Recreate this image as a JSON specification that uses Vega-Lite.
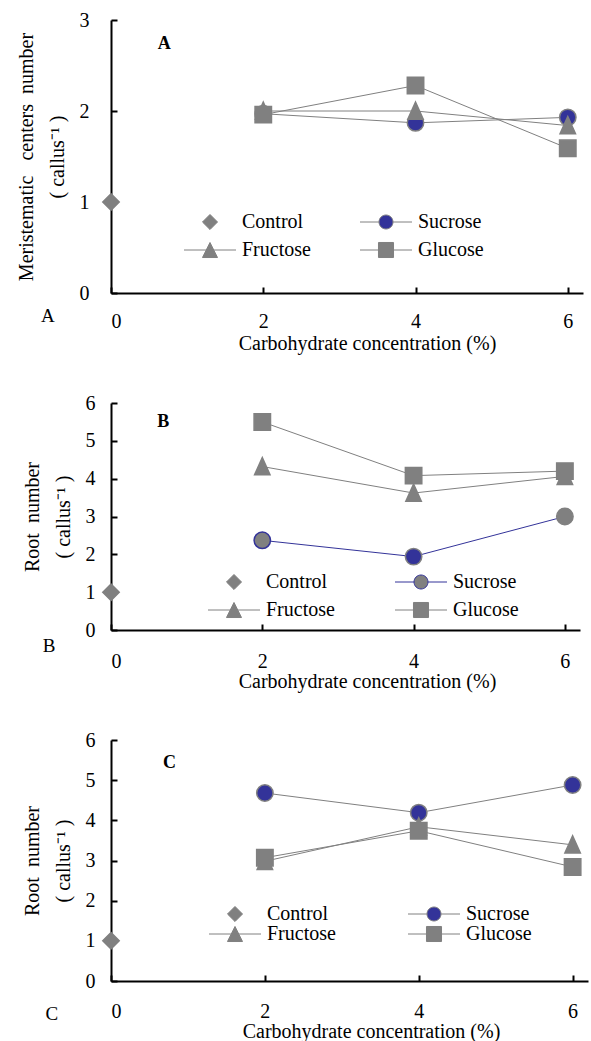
{
  "$schema": "https://vega.github.io/schema/vega-lite/v6.json",
  "padding": {"left": 15, "top": 10, "right": 0, "bottom": 5},
  "bounds": "flush",
  "spacing": 110,
  "datasets": {
    "A": [
      {"series": "Control", "x": 0, "y": 1},
      {"series": "Sucrose", "x": 2, "y": 1.97},
      {"series": "Sucrose", "x": 4, "y": 1.87},
      {"series": "Sucrose", "x": 6, "y": 1.93},
      {"series": "Fructose", "x": 2, "y": 2.0},
      {"series": "Fructose", "x": 4, "y": 2.0},
      {"series": "Fructose", "x": 6, "y": 1.84},
      {"series": "Glucose", "x": 2, "y": 1.96},
      {"series": "Glucose", "x": 4, "y": 2.28},
      {"series": "Glucose", "x": 6, "y": 1.59}
    ],
    "B": [
      {"series": "Control", "x": 0, "y": 1},
      {"series": "Sucrose", "x": 2, "y": 2.37},
      {"series": "Sucrose", "x": 4, "y": 1.94},
      {"series": "Sucrose", "x": 6, "y": 3.0},
      {"series": "Fructose", "x": 2, "y": 4.32},
      {"series": "Fructose", "x": 4, "y": 3.62},
      {"series": "Fructose", "x": 6, "y": 4.06},
      {"series": "Glucose", "x": 2, "y": 5.5},
      {"series": "Glucose", "x": 4, "y": 4.08},
      {"series": "Glucose", "x": 6, "y": 4.2}
    ],
    "C": [
      {"series": "Control", "x": 0, "y": 1},
      {"series": "Sucrose", "x": 2, "y": 4.68},
      {"series": "Sucrose", "x": 4, "y": 4.19},
      {"series": "Sucrose", "x": 6, "y": 4.88},
      {"series": "Fructose", "x": 2, "y": 2.98},
      {"series": "Fructose", "x": 4, "y": 3.84},
      {"series": "Fructose", "x": 6, "y": 3.39},
      {"series": "Glucose", "x": 2, "y": 3.07},
      {"series": "Glucose", "x": 4, "y": 3.74},
      {"series": "Glucose", "x": 6, "y": 2.84}
    ],
    "tagA": [{"x": 0.7, "y": 2.74, "label": "A"}],
    "outA": [{"x": -0.83, "y": -0.25, "label": "A"}],
    "tagB": [{"x": 0.69, "y": 5.49, "label": "B"}],
    "outB": [{"x": -0.82, "y": -0.43, "label": "B"}],
    "tagC": [{"x": 0.76, "y": 5.43, "label": "C"}],
    "outC": [{"x": -0.77, "y": -0.82, "label": "C"}]
  },
  "vconcat": [
    {
      "width": 472,
      "height": 273,
      "data": {"name": "A"},
      "encoding": {
        "x": {"field": "x", "type": "quantitative", "scale": {"domain": [0, 6.2], "nice": false, "zero": false},
          "axis": {"values": [0, 2, 4, 6], "title": "Carbohydrate concentration (%)", "labelFont": "Liberation Serif", "titleFont": "Liberation Serif", "labelBaseline": "middle", "labelPadding": 34, "titleX": 256, "titleY": 50, "titleBaseline": "middle", "titleAlign": "center"}},
        "y": {"field": "y", "type": "quantitative", "scale": {"domain": [0, 3], "nice": false},
          "axis": {"values": [0, 1, 2, 3], "title": ["Meristematic\u00a0\u00a0 centers\u00a0 number", "( callus\u207b\u00b9 )"], "labelFont": "Liberation Serif", "titleFont": "Liberation Serif", "titleLineHeight": 31, "titlePadding": 12, "labelPadding": 28}}
      },
      "layer": [
        {"transform": [{"filter": "datum.series !== 'Control'"}], "mark": {"type": "line", "color": "#808080", "strokeWidth": 1}, "encoding": {"detail": {"field": "series"}}},
        {"mark": {"type": "point", "filled": true, "size": 270, "opacity": 1, "strokeWidth": 1.5, "stroke": "#808080"},
          "encoding": {
            "shape": {"condition": [{"test": "datum.series === 'Control'", "value": "diamond"}, {"test": "datum.series === 'Sucrose'", "value": "circle"}, {"test": "datum.series === 'Fructose'", "value": "M0,-1.1L0.94,1L-0.94,1Z"}], "value": "square"},
            "fill": {"condition": {"test": "datum.series === 'Sucrose'", "value": "#333399"}, "value": "#808080"}
          }},
        {"mark": {"type": "point", "filled": true, "size": 256, "opacity": 0, "strokeWidth": 1, "stroke": "#808080"},
          "encoding": {
            "shape": {"field": "series", "scale": {"domain": ["Control", "Fructose", "Sucrose", "Glucose"], "range": ["M0,-0.94L0.94,0L0,0.94L-0.94,0Z", "M-3.25,0L-0.47,0M0.47,0L3.25,0M0,-0.94L0.94,0.94L-0.94,0.94Z", "M-3.25,0L-0.875,0M0.875,0L3.25,0M0.875,0A0.875,0.875,0,1,1,-0.875,0A0.875,0.875,0,1,1,0.875,0Z", "M-3.25,0L-0.94,0M0.94,0L3.25,0M-0.94,-0.94L0.94,-0.94L0.94,0.94L-0.94,0.94Z"]},
              "legend": {"title": null, "legendX": 71, "legendY": 192, "columnPadding": 47, "rowPadding": 8}},
            "fill": {"field": "series", "scale": {"domain": ["Control", "Fructose", "Sucrose", "Glucose"], "range": ["#808080", "#808080", "#333399", "#808080"]},
              "legend": {"title": null, "legendX": 71, "legendY": 192, "columnPadding": 47, "rowPadding": 8}}
          }},
        {"data": {"name": "tagA"}, "mark": {"type": "text", "font": "Liberation Serif", "fontSize": 18, "fontWeight": "bold", "align": "center", "baseline": "middle", "color": "black"}, "encoding": {"text": {"field": "label"}}},
        {"data": {"name": "outA"}, "mark": {"type": "text", "font": "Liberation Serif", "fontSize": 19, "align": "center", "baseline": "middle", "color": "black"}, "encoding": {"text": {"field": "label"}}}
      ]
    },
    {
      "width": 469,
      "height": 227,
      "data": {"name": "B"},
      "encoding": {
        "x": {"field": "x", "type": "quantitative", "scale": {"domain": [0, 6.2], "nice": false, "zero": false},
          "axis": {"values": [0, 2, 4, 6], "title": "Carbohydrate concentration (%)", "labelFont": "Liberation Serif", "titleFont": "Liberation Serif", "labelBaseline": "middle", "labelPadding": 37, "titleX": 256, "titleY": 51, "titleBaseline": "middle", "titleAlign": "center"}},
        "y": {"field": "y", "type": "quantitative", "scale": {"domain": [0, 6], "nice": false},
          "axis": {"values": [0, 1, 2, 3, 4, 5, 6], "title": ["Root\u00a0 number", "( callus\u207b\u00b9 )"], "labelFont": "Liberation Serif", "titleFont": "Liberation Serif", "titleLineHeight": 31, "titlePadding": 12, "labelPadding": 22}}
      },
      "layer": [
        {"transform": [{"filter": "datum.series !== 'Control'"}], "mark": {"type": "line", "strokeWidth": 1},
          "encoding": {"detail": {"field": "series"}, "color": {"condition": {"test": "datum.series === 'Sucrose'", "value": "#333399"}, "value": "#808080"}}},
        {"mark": {"type": "point", "filled": true, "size": 270, "opacity": 1, "strokeWidth": 1.5},
          "encoding": {
            "shape": {"condition": [{"test": "datum.series === 'Control'", "value": "diamond"}, {"test": "datum.series === 'Sucrose'", "value": "circle"}, {"test": "datum.series === 'Fructose'", "value": "M0,-1.1L0.94,1L-0.94,1Z"}], "value": "square"},
            "fill": {"condition": {"test": "datum.series === 'Sucrose' && datum.x === 4", "value": "#333399"}, "value": "#808080"},
            "stroke": {"condition": {"test": "datum.series === 'Sucrose' && datum.x === 2", "value": "#333399"}, "value": "#808080"}
          }},
        {"mark": {"type": "point", "filled": true, "size": 256, "opacity": 0, "strokeWidth": 1},
          "encoding": {
            "shape": {"field": "series", "scale": {"domain": ["Control", "Fructose", "Sucrose", "Glucose"], "range": ["M0,-0.94L0.94,0L0,0.94L-0.94,0Z", "M-3.25,0L-0.47,0M0.47,0L3.25,0M0,-0.94L0.94,0.94L-0.94,0.94Z", "M-3.25,0L-0.875,0M0.875,0L3.25,0M0.875,0A0.875,0.875,0,1,1,-0.875,0A0.875,0.875,0,1,1,0.875,0Z", "M-3.25,0L-0.94,0M0.94,0L3.25,0M-0.94,-0.94L0.94,-0.94L0.94,0.94L-0.94,0.94Z"]},
              "legend": {"title": null, "legendX": 95, "legendY": 169, "columnPadding": 58, "rowPadding": 8}},
            "fill": {"field": "series", "scale": {"domain": ["Control", "Fructose", "Sucrose", "Glucose"], "range": ["#808080", "#808080", "#808080", "#808080"]},
              "legend": {"title": null, "legendX": 95, "legendY": 169, "columnPadding": 58, "rowPadding": 8}},
            "stroke": {"field": "series", "scale": {"domain": ["Control", "Fructose", "Sucrose", "Glucose"], "range": ["#808080", "#808080", "#333399", "#808080"]},
              "legend": {"title": null, "legendX": 95, "legendY": 169, "columnPadding": 58, "rowPadding": 8}}
          }},
        {"data": {"name": "tagB"}, "mark": {"type": "text", "font": "Liberation Serif", "fontSize": 18, "fontWeight": "bold", "align": "center", "baseline": "middle", "color": "black"}, "encoding": {"text": {"field": "label"}}},
        {"data": {"name": "outB"}, "mark": {"type": "text", "font": "Liberation Serif", "fontSize": 19, "align": "center", "baseline": "middle", "color": "black"}, "encoding": {"text": {"field": "label"}}}
      ]
    },
    {
      "width": 477,
      "height": 241,
      "data": {"name": "C"},
      "encoding": {
        "x": {"field": "x", "type": "quantitative", "scale": {"domain": [0, 6.2], "nice": false, "zero": false},
          "axis": {"values": [0, 2, 4, 6], "title": "Carbohydrate concentration (%)", "labelFont": "Liberation Serif", "titleFont": "Liberation Serif", "labelBaseline": "middle", "labelPadding": 36, "titleX": 260, "titleY": 50, "titleBaseline": "middle", "titleAlign": "center"}},
        "y": {"field": "y", "type": "quantitative", "scale": {"domain": [0, 6], "nice": false},
          "axis": {"values": [0, 1, 2, 3, 4, 5, 6], "title": ["Root\u00a0 number", "( callus\u207b\u00b9 )"], "labelFont": "Liberation Serif", "titleFont": "Liberation Serif", "titleLineHeight": 31, "titlePadding": 12, "labelPadding": 22}}
      },
      "layer": [
        {"transform": [{"filter": "datum.series !== 'Control'"}], "mark": {"type": "line", "color": "#808080", "strokeWidth": 1}, "encoding": {"detail": {"field": "series"}}},
        {"mark": {"type": "point", "filled": true, "size": 270, "opacity": 1, "strokeWidth": 1.5, "stroke": "#808080"},
          "encoding": {
            "shape": {"condition": [{"test": "datum.series === 'Control'", "value": "diamond"}, {"test": "datum.series === 'Sucrose'", "value": "circle"}, {"test": "datum.series === 'Fructose'", "value": "M0,-1.1L0.94,1L-0.94,1Z"}], "value": "square"},
            "fill": {"condition": {"test": "datum.series === 'Sucrose'", "value": "#333399"}, "value": "#808080"}
          }},
        {"mark": {"type": "point", "filled": true, "size": 256, "opacity": 0, "strokeWidth": 1, "stroke": "#808080"},
          "encoding": {
            "shape": {"field": "series", "scale": {"domain": ["Control", "Fructose", "Sucrose", "Glucose"], "range": ["M0,-0.94L0.94,0L0,0.94L-0.94,0Z", "M-3.25,0L-0.47,0M0.47,0L3.25,0M0,-0.94L0.94,0.94L-0.94,0.94Z", "M-3.25,0L-0.875,0M0.875,0L3.25,0M0.875,0A0.875,0.875,0,1,1,-0.875,0A0.875,0.875,0,1,1,0.875,0Z", "M-3.25,0L-0.94,0M0.94,0L3.25,0M-0.94,-0.94L0.94,-0.94L0.94,0.94L-0.94,0.94Z"]},
              "legend": {"title": null, "legendX": 96, "legendY": 164, "columnPadding": 70, "rowPadding": -1}},
            "fill": {"field": "series", "scale": {"domain": ["Control", "Fructose", "Sucrose", "Glucose"], "range": ["#808080", "#808080", "#333399", "#808080"]},
              "legend": {"title": null, "legendX": 96, "legendY": 164, "columnPadding": 70, "rowPadding": -1}}
          }},
        {"data": {"name": "tagC"}, "mark": {"type": "text", "font": "Liberation Serif", "fontSize": 18, "fontWeight": "bold", "align": "center", "baseline": "middle", "color": "black"}, "encoding": {"text": {"field": "label"}}},
        {"data": {"name": "outC"}, "mark": {"type": "text", "font": "Liberation Serif", "fontSize": 19, "align": "center", "baseline": "middle", "color": "black"}, "encoding": {"text": {"field": "label"}}}
      ]
    }
  ],
  "resolve": {"scale": {"shape": "independent", "fill": "independent", "stroke": "independent", "color": "independent"}, "legend": {"shape": "independent", "fill": "independent", "stroke": "independent"}},
  "config": {
    "font": "Liberation Serif",
    "view": {"stroke": null},
    "axis": {"domainColor": "black", "domainWidth": 2, "tickColor": "black", "tickWidth": 2, "tickSize": -6, "grid": false, "labelFont": "Liberation Serif", "labelFontSize": 20, "labelColor": "black", "titleFont": "Liberation Serif", "titleFontSize": 20, "titleFontWeight": "normal", "titleColor": "black"},
    "legend": {"orient": "none", "columns": 2, "padding": 0, "symbolSize": 256, "symbolOffset": 18, "labelOffset": 22, "labelFont": "Liberation Serif", "labelFontSize": 20, "labelColor": "black", "labelLimit": 0, "symbolOpacity": 1, "symbolStrokeWidth": 1}
  }
}
